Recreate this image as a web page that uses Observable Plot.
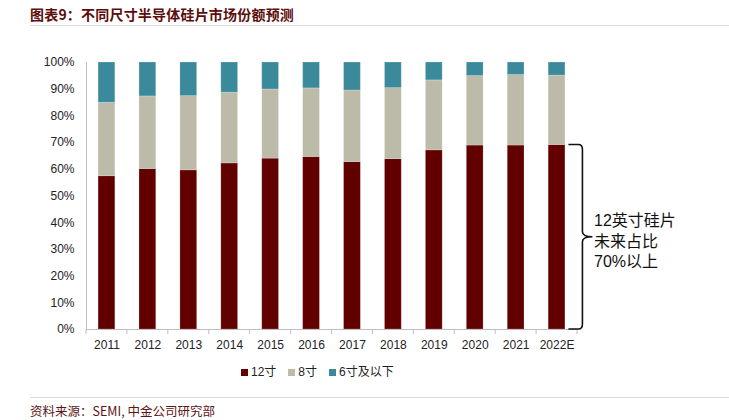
<!DOCTYPE html>
<html>
<head>
<meta charset="utf-8">
<script src="https://cdn.jsdelivr.net/npm/d3@7"></script>
<script src="https://cdn.jsdelivr.net/npm/@observablehq/plot@0.6"></script>
<style>
  html, body { margin: 0; padding: 0; background: #fff; }
  #wrap { position: relative; width: 729px; height: 420px; overflow: hidden;
    font-family: "Liberation Sans", Arial, "Noto Sans CJK SC", sans-serif; }
  #title { position: absolute; left: 30px; top: 5px; font-size: 14px; font-weight: bold;
    color: #5c0d0d; font-family: "Noto Sans CJK SC", sans-serif; letter-spacing: 0.2px; line-height: 18px; }
  .hr { position: absolute; left: 30px; right: 0; height: 0; border-top: 1px solid #d9d9d9; }
  #chart { position: absolute; left: 0; top: 40px; width: 729px; height: 320px; }
  #chart svg { max-width: none !important; display: block; }
  #legend { position: absolute; top: 364px; left: 241px; font-size: 12px; color: #222;
    display: flex; align-items: center; white-space: nowrap; line-height: 16px; }
  #legend .sw { display: inline-block; width: 7px; height: 7px; margin-right: 3px; }
  #legend .it { display: flex; align-items: center; margin-right: 12px; }
  #source { position: absolute; left: 30px; top: 403px; font-size: 12.5px; color: #5c1414;
    font-family: "Noto Sans CJK SC", sans-serif; line-height: 16px; }
</style>
</head>
<body>
<div id="wrap">
  <div id="title">图表9：不同尺寸半导体硅片市场份额预测</div>
  <div class="hr" style="top:25px"></div>
  <div id="chart"></div>
  <div id="legend"></div>
  <div class="hr" style="top:397px"></div>
  <div id="source">资料来源：SEMI, 中金公司研究部</div>
</div>
<script>
const years = ["2011","2012","2013","2014","2015","2016","2017","2018","2019","2020","2021","2022E"];
const share12 = [57.4, 60.1, 59.6, 62.2, 64.0, 64.6, 62.7, 63.8, 67.1, 68.9, 68.9, 69.1];
const share8  = [27.5, 27.2, 27.8, 26.5, 25.9, 25.7, 26.8, 26.6, 26.2, 26.0, 26.4, 26.0];
const share6  = [15.1, 12.7, 12.6, 11.3, 10.1,  9.7, 10.5,  9.6,  6.7,  5.1,  4.7,  4.9];
const seriesNames = ["12寸", "8寸", "6寸及以下"];
const seriesColors = ["#620000", "#bcbba9", "#3b8a9c"];
const yTicks = [0, 0.1, 0.2, 0.3, 0.4, 0.5, 0.6, 0.7, 0.8, 0.9, 1.0];
const noteText = "12英寸硅片\n未来占比\n70%以上";

(function () {
const seriesValues = [share12, share8, share6];
const data = [];
years.forEach((y, i) => {
  seriesNames.forEach((s, k) => data.push({year: y, series: s, value: seriesValues[k][i] / 100}));
});

const W = 729, H = 320, mL = 86, mR = 152, mT = 22, mB = 31;
const font = '"Liberation Sans", Arial, "Noto Sans CJK SC", sans-serif';

const plot = Plot.plot({
  width: W, height: H,
  marginLeft: mL, marginRight: mR, marginTop: mT, marginBottom: mB,
  style: {fontFamily: font, fontSize: "12px", color: "#222", background: "transparent", overflow: "visible"},
  x: {domain: years, paddingInner: 0.59, paddingOuter: 0.295, round: false, label: null},
  y: {domain: [0, 1], label: null},
  color: {domain: seriesNames, range: seriesColors},
  marks: [
    Plot.barY(data, {x: "year", y: "value", fill: "series", order: seriesNames, stroke: "#ffffff", strokeOpacity: 0.25, strokeWidth: 0.8}),
    Plot.axisY({ticks: yTicks, tickFormat: d3.format(".0%"), tickSize: 0, tickPadding: 12, fontSize: 12, fill: "#222"}),
    Plot.axisX({tickSize: 0, tickPadding: 11, fontSize: 12, fill: "#222"}),
    Plot.frame({anchor: "left", stroke: "#bfbfbf"}),
    Plot.ruleY([0], {stroke: "#bfbfbf"}),
    Plot.text([noteText], {x: () => "2022E", y: () => 0.334, dx: 37, text: d => d, textAnchor: "start", lineAnchor: "middle", lineHeight: 1.28, fontSize: 16, fill: "#111", fontFamily: font})
  ]
});

document.getElementById("chart").appendChild(plot);

const xs = plot.scale("x");
const ys = plot.scale("y");
const svg = d3.select(plot);
const r0 = xs.range[0], r1 = xs.range[1];
const step = (r1 - r0) / years.length;
const yZero = ys.apply(0);
for (let i = 0; i <= years.length; i++) {
  const xx = r0 + i * step;
  svg.append("line").attr("x1", xx).attr("x2", xx).attr("y1", yZero).attr("y2", yZero + 5)
    .attr("stroke", "#bfbfbf");
}
const lastIdx = years.length - 1;
const barRight = xs.apply(years[lastIdx]) + xs.bandwidth;
const yTop = ys.apply(share12[lastIdx] / 100);
const yBot = ys.apply(0);
const yMid = (yTop + yBot) / 2;
const bx0 = barRight + 3.5, bx1 = bx0 + 14;
const p = `M${bx0},${yTop} H${bx1 - 4} Q${bx1},${yTop} ${bx1},${yTop + 5} V${yMid - 5} Q${bx1},${yMid} ${bx1 + 10},${yMid} Q${bx1},${yMid} ${bx1},${yMid + 5} V${yBot - 5} Q${bx1},${yBot} ${bx1 - 4},${yBot} H${bx0}`;
svg.append("path").attr("d", p).attr("fill", "none").attr("stroke", "#111").attr("stroke-width", 1.6);

const lg = document.getElementById("legend");
seriesNames.forEach((s, k) => {
  const it = document.createElement("span");
  it.className = "it";
  it.innerHTML = `<span class="sw" style="background:${seriesColors[k]}"></span><span>${s}</span>`;
  lg.appendChild(it);
});
})();
</script>
</body>
</html>
